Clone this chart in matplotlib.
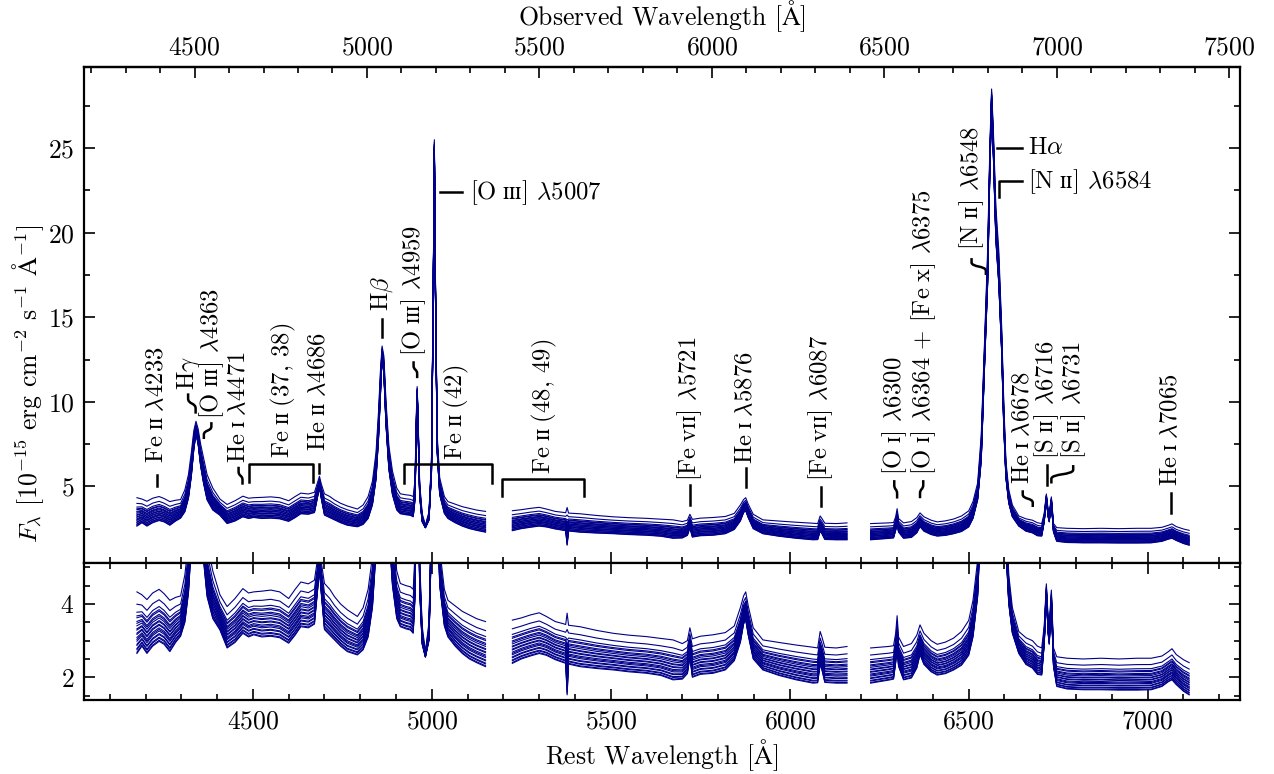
import numpy as np
import matplotlib
matplotlib.use("Agg")
import matplotlib.pyplot as plt
from matplotlib.path import Path
from matplotlib.patches import PathPatch
from matplotlib.ticker import MultipleLocator, FixedLocator

plt.rcParams['font.family'] = 'serif'
plt.rcParams['font.serif'] = ['cmr10']
plt.rcParams['mathtext.fontset'] = 'cm'
plt.rcParams['axes.formatter.use_mathtext'] = True
plt.rcParams['axes.unicode_minus'] = False

# redshift linking rest and observed frame
z = 0.0376

# --- spectra: faint envelope and bright envelope per segment ---
seg1_wave = [4176, 4190, 4204, 4220, 4238, 4252, 4268, 4284, 4298, 4310, 4320, 4328, 4335, 4341,
             4347, 4354, 4362, 4372, 4388, 4408, 4428, 4450, 4472, 4488, 4502, 4525, 4550, 4575,
             4600, 4618, 4634, 4655, 4672, 4681, 4686, 4691, 4700, 4715, 4728, 4745, 4764, 4792,
             4808, 4822, 4834, 4844, 4851, 4856, 4861, 4866, 4872, 4880, 4890, 4902, 4912, 4928,
             4940, 4948, 4953, 4957, 4959, 4961, 4966, 4973, 4982, 4992, 4999, 5004, 5007, 5010,
             5015, 5022, 5035, 5045, 5065, 5085, 5105, 5125, 5150]
seg1_low = [2.65, 2.85, 2.65, 2.85, 2.98, 2.90, 2.70, 2.95, 3.12, 3.50, 4.30, 5.60, 7.20, 8.10,
            7.50, 6.20, 5.20, 4.20, 3.60, 3.29, 2.80, 2.95, 3.20, 3.10, 3.16, 3.10, 3.12, 3.08,
            2.93, 3.15, 3.38, 3.35, 3.45, 4.40, 4.95, 4.30, 3.30, 3.15, 3.02, 2.85, 2.70, 2.61,
            2.75, 3.10, 3.90, 5.40, 7.80, 10.2, 12.7, 11.6, 8.60, 6.00, 4.50, 3.60, 3.38, 3.32,
            3.29, 3.20, 4.20, 8.50, 10.4, 8.80, 4.40, 2.90, 2.55, 3.00, 5.80, 16.0, 24.8, 16.5,
            7.00, 4.50, 3.40, 3.10, 2.85, 2.65, 2.50, 2.40, 2.29]
seg1_high = [4.33, 4.25, 4.12, 4.30, 4.40, 4.28, 4.10, 4.18, 4.22, 4.80, 5.70, 7.00, 8.30, 8.85,
             8.40, 7.50, 6.70, 5.70, 4.90, 4.25, 3.93, 4.15, 4.42, 4.30, 4.33, 4.35, 4.38, 4.33,
             4.15, 4.40, 4.60, 4.55, 4.65, 5.25, 5.60, 5.15, 4.56, 4.40, 4.20, 4.00, 3.84, 3.66,
             3.90, 4.40, 5.30, 7.00, 9.40, 11.7, 13.3, 12.7, 10.0, 7.40, 5.90, 4.90, 4.56, 4.50,
             4.47, 4.40, 5.40, 9.50, 10.9, 9.60, 5.20, 3.40, 2.70, 3.50, 6.60, 17.0, 25.5, 17.5,
             8.00, 5.50, 4.40, 4.10, 3.95, 3.80, 3.70, 3.60, 3.52]

seg2_wave = [5225, 5250, 5275, 5300, 5320, 5345, 5368, 5374, 5378, 5382, 5414, 5460, 5507, 5550,
             5600, 5640, 5674, 5700, 5714, 5721, 5728, 5750, 5786, 5820, 5845, 5862, 5871, 5877,
             5884, 5898, 5925, 5970, 6018, 6065, 6078, 6085, 6090, 6098, 6130, 6160]
seg2_low = [2.38, 2.50, 2.58, 2.65, 2.60, 2.48, 2.40, 2.38, 1.52, 2.36, 2.29, 2.24, 2.20, 2.15,
            2.11, 2.05, 1.93, 1.95, 2.10, 2.55, 2.00, 2.08, 2.11, 2.20, 2.45, 2.95, 3.45, 3.56,
            3.15, 2.50, 2.20, 2.05, 1.93, 1.84, 1.85, 2.35, 2.20, 1.86, 1.84, 1.84]
seg2_high = [3.56, 3.62, 3.70, 3.76, 3.66, 3.52, 3.46, 3.44, 3.75, 3.42, 3.38, 3.28, 3.20, 3.15,
             3.11, 3.06, 3.02, 2.92, 3.00, 3.35, 3.05, 3.12, 3.16, 3.22, 3.40, 3.90, 4.22, 4.33,
             3.95, 3.35, 3.02, 2.95, 2.88, 2.82, 2.80, 3.25, 3.10, 2.82, 2.80, 2.84]

seg3_wave = [6226, 6250, 6275, 6290, 6296, 6300, 6304, 6318, 6340, 6355, 6364, 6375, 6395, 6412,
             6435, 6458, 6480, 6500, 6512, 6525, 6535, 6545, 6553, 6559, 6564, 6569, 6576, 6584,
             6592, 6598, 6604, 6612, 6622, 6640, 6660, 6678, 6692, 6704, 6711, 6717, 6722, 6725,
             6731, 6737, 6746, 6775, 6820, 6870, 6920, 6970, 7010, 7040, 7058, 7068, 7080, 7100,
             7116]
seg3_low = [1.84, 1.88, 1.92, 1.95, 2.40, 2.85, 2.30, 1.93, 1.98, 2.25, 2.62, 2.35, 2.15, 2.06,
            2.10, 2.20, 2.33, 2.60, 3.10, 4.20, 6.50, 12.5, 17.0, 23.5, 27.6, 24.5, 19.5, 17.0,
            13.0, 8.50, 5.50, 4.00, 3.20, 2.65, 2.35, 2.25, 2.08, 2.06, 2.90, 4.20, 3.20, 2.90,
            4.00, 2.30, 1.75, 1.68, 1.66, 1.66, 1.65, 1.65, 1.66, 1.75, 1.88, 1.93, 1.80, 1.62,
            1.52]
seg3_high = [2.80, 2.82, 2.84, 2.86, 3.20, 3.68, 3.10, 2.84, 2.92, 3.15, 3.43, 3.20, 3.00, 2.90,
             2.96, 3.07, 3.25, 3.55, 4.10, 5.20, 8.00, 14.0, 19.0, 25.0, 28.5, 26.0, 21.5, 19.0,
             14.5, 10.0, 6.50, 4.80, 3.90, 3.25, 3.08, 3.00, 2.85, 2.80, 3.40, 4.55, 3.60, 3.40,
             4.38, 2.80, 2.56, 2.52, 2.50, 2.52, 2.50, 2.52, 2.52, 2.58, 2.70, 2.78, 2.62, 2.48,
             2.40]

# position of each epoch between the faint and bright envelopes
epoch_weights = [0.0, 0.02, 0.06, 0.08, 0.13, 0.15, 0.20, 0.23, 0.26, 0.31, 0.33, 0.38, 0.40,
                 0.45, 0.49, 0.52, 0.58, 0.61, 0.67, 0.80, 1.0]

segments = [(seg1_wave, seg1_low, seg1_high),
            (seg2_wave, seg2_low, seg2_high),
            (seg3_wave, seg3_low, seg3_high)]

# --- line identifications ---
# vertical tick: (label, x, y_bottom, y_top, y_text)
tick_labels = [
    (r"Fe$\;\mathrm{ɪɪ}\;\lambda$4233", 4233, 5.03, 5.67, 6.4),
    (r"He$\;\mathrm{ɪɪ}\;\lambda$4686", 4686, 5.8, 6.3, 7.1),
    (r"H$\beta$", 4860, 13.82, 14.87, 15.4),
    (r"[Fe$\;\mathrm{vɪɪ}$] $\lambda$5721", 5721, 3.92, 5.07, 5.3),
    (r"He$\;\mathrm{ɪ}\;\lambda$5876", 5877, 4.97, 6.06, 6.3),
    (r"[Fe$\;\mathrm{vɪɪ}$] $\lambda$6087", 6087, 3.84, 4.97, 5.3),
    (r"[S$\;\mathrm{ɪɪ}$] $\lambda$6716", 6718, 5.11, 6.26, 6.6),
    (r"He$\;\mathrm{ɪ}\;\lambda$7065", 7065, 3.44, 4.63, 5.05),
]
# curly connector: (label, x_line, y_bottom, x_text, y_top, y_text)
curl_labels = [
    (r"H$\gamma$", 4340, 9.3, 4319, 10.5, 10.7),
    (r"[O$\;\mathrm{ɪɪɪ}$] $\lambda$4363", 4363, 7.8, 4384, 8.8, 9.0),
    (r"He$\;\mathrm{ɪ}\;\lambda$4471", 4471, 5.1, 4460, 6.16, 6.4),
    (r"[O$\;\mathrm{ɪɪɪ}$] $\lambda$4959", 4959, 11.4, 4949, 12.4, 12.7),
    (r"[O$\;\mathrm{ɪ}$] $\lambda$6300", 6300, 4.28, 6292, 5.37, 5.65),
    (r"[O$\;\mathrm{ɪ}$] $\lambda$6364 + [Fe$\;\mathrm{x}$] $\lambda$6375", 6364, 4.3, 6373, 5.37, 5.65),
    (r"[N$\;\mathrm{ɪɪ}$] $\lambda$6548", 6548, 17.5, 6508, 18.5, 19.0),
    (r"He$\;\mathrm{ɪ}\;\lambda$6678", 6679, 3.78, 6651, 4.77, 5.15),
    (r"[S$\;\mathrm{ɪɪ}$] $\lambda$6731", 6731, 5.17, 6792, 6.26, 6.6),
]
# blends: (label, x_left, x_right, y_bar, y_ends, x_text, y_text)
bracket_labels = [
    (r"Fe$\;\mathrm{ɪɪ}\;$(37, 38)", 4488, 4668, 6.32, 5.27, 4585, 6.65),
    (r"Fe$\;\mathrm{ɪɪ}\;$(42)", 4923, 5169, 6.32, 5.2, 5070, 6.55),
    (r"Fe$\;\mathrm{ɪɪ}\;$(48, 49)", 5196, 5425, 5.46, 4.44, 5316, 5.76),
]
# horizontal labels: (label, x_corner, y_corner, y, x_start, x_end, x_text)
side_labels = [
    (r"[O$\;\mathrm{ɪɪɪ}$] $\lambda$5007", 5023, 22.4, 22.4, 5023, 5085, 5107),
    (r"H$\alpha$", 6578, 25.0, 25.0, 6578, 6648, 6666),
    (r"[N$\;\mathrm{ɪɪ}$] $\lambda$6584", 6585.5, 22.1, 23.04, 6585.5, 6648, 6666),
]

fig = plt.figure(figsize=(12.74, 7.74), dpi=100)
ax1 = fig.add_axes([0.0659, 0.2722, 0.9074, 0.6408])
ax2 = fig.add_axes([0.0659, 0.0956, 0.9074, 0.1766], sharex=ax1)

spec_color = '#00008b'
for w in epoch_weights:
    for wave, low, high in segments:
        flux = np.array(low) + w * (np.array(high) - np.array(low))
        ax1.plot(wave, flux, color=spec_color, lw=0.8)
        ax2.plot(wave, flux, color=spec_color, lw=0.8)

ann_fs = 17.8
lw_ann = 1.8
for label, x, yb, yt, ytext in tick_labels:
    ax1.plot([x, x], [yb, yt], color='k', lw=lw_ann)
    ax1.text(x, ytext, label, rotation=90, ha='center', va='bottom', fontsize=ann_fs)

for label, x0, y0, x1, y1, ytext in curl_labels:
    h = y1 - y0
    verts = [(x0, y0), (x0, y0 + 0.25 * h), (x0, y0 + 0.55 * h), (x1, y0 + 0.45 * h),
             (x1, y0 + 0.75 * h), (x1, y1)]
    codes = [Path.MOVETO, Path.LINETO, Path.CURVE4, Path.CURVE4, Path.CURVE4, Path.LINETO]
    ax1.add_patch(PathPatch(Path(verts, codes), fc='none', ec='k', lw=lw_ann))
    ax1.text(x1, ytext, label, rotation=90, ha='center', va='bottom', fontsize=ann_fs)

for label, xl, xr, ybar, yend, xt, yt in bracket_labels:
    ax1.plot([xl, xl, xr, xr], [yend, ybar, ybar, yend], color='k', lw=lw_ann)
    ax1.text(xt, yt, label, rotation=90, ha='center', va='bottom', fontsize=ann_fs)

for label, xv, yv, y, xs, xe, xt in side_labels:
    ax1.plot([xv, xs, xe], [yv, y, y], color='k', lw=lw_ann)
    ax1.text(xt, y, label, ha='left', va='center', fontsize=ann_fs)

fs = 18.5
ax1.set_xlim(4028, 7258)
ax1.set_ylim(0.45, 29.78)
ax2.set_ylim(1.38, 5.11)

for ax in (ax1, ax2):
    ax.xaxis.set_major_locator(FixedLocator([4500, 5000, 5500, 6000, 6500, 7000]))
    ax.xaxis.set_minor_locator(MultipleLocator(100))
    ax.tick_params(which='both', direction='in', right=True, top=True, width=1.2, labelsize=fs, pad=7)
    ax.tick_params(which='major', length=8)
    ax.tick_params(which='minor', length=4.5)
    for s in ax.spines.values():
        s.set_linewidth(1.6)

ax1.tick_params(which='both', top=False, labelbottom=False)
ax1.yaxis.set_major_locator(FixedLocator([5, 10, 15, 20, 25]))
ax1.yaxis.set_minor_locator(MultipleLocator(2.5))
ax2.yaxis.set_major_locator(FixedLocator([2, 4]))
ax2.yaxis.set_minor_locator(MultipleLocator(0.5))

secax = ax1.secondary_xaxis('top', functions=(lambda x: x * (1 + z), lambda x: x / (1 + z)))
secax.xaxis.set_major_locator(FixedLocator([4500, 5000, 5500, 6000, 6500, 7000, 7500]))
secax.xaxis.set_minor_locator(MultipleLocator(100))
secax.tick_params(which='both', direction='in', width=1.2, labelsize=fs, pad=6)
secax.tick_params(which='major', length=8)
secax.tick_params(which='minor', length=4.5)
secax.spines['top'].set_linewidth(1.6)
secax.set_xlabel(r"Observed Wavelength [$\mathrm{\AA}$]", fontsize=fs, labelpad=7)

ax2.set_xlabel(r"Rest Wavelength [$\mathrm{\AA}$]", fontsize=fs, labelpad=3)
fig.text(0.022, 0.504, r"$F_\lambda$ [10$^{-15}$ erg cm$^{-2}$ s$^{-1}$ $\mathrm{\AA}^{-1}$]",
         rotation=90, ha='center', va='center', fontsize=fs)

fig.savefig("out.png", dpi=100)
